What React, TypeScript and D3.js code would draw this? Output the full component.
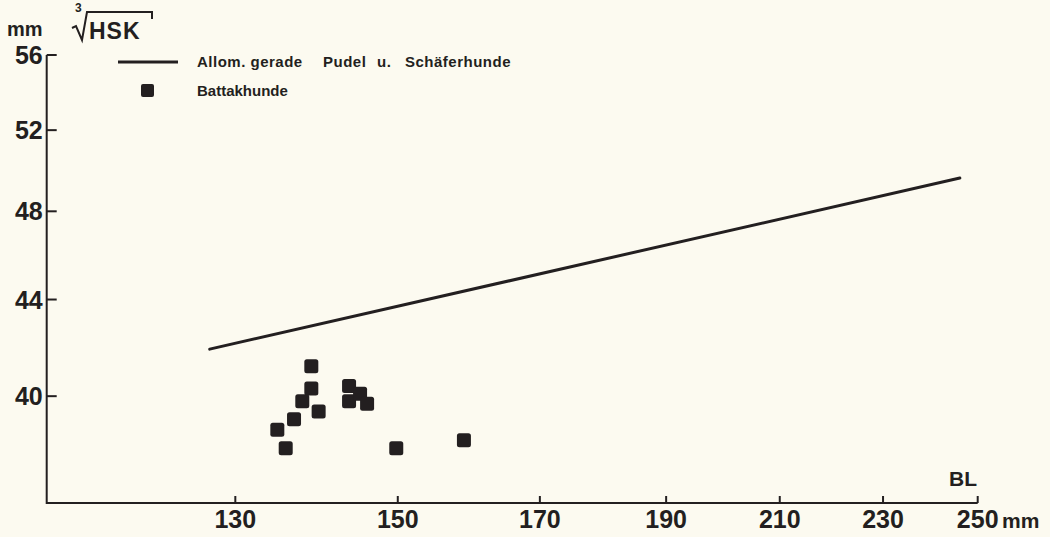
import React from "react";
import * as d3 from "d3";

// x: BL (mm), y: cube root of HSK (mm) – both on log axes
const xTicks = [130, 150, 170, 190, 210, 230, 250];
const yTicks = [40, 44, 48, 52, 56];

// allometric line, Pudel u. Schäferhunde (endpoints)
const lineBL = [127.1, 246.1];
const lineHSK = [41.9, 49.6];

// Battakhunde
const dogBL = [139.0, 139.0, 137.9, 139.9, 136.9, 134.9, 135.9, 143.7, 143.7, 145.1, 146.0, 149.8, 159.0];
const dogHSK = [41.2, 40.3, 39.8, 39.4, 39.1, 38.7, 38.0, 40.4, 39.8, 40.1, 39.7, 38.0, 38.3];

// legend words, with their left edges
const legendWords = ["Allom. gerade", "Pudel", "u.", "Schäferhunde"];
const legendWordX = [197, 323, 377, 405];
const legendDots = "Battakhunde";

const W = 1050;
const H = 537;
const INK = "#231f20";
const FONT = "'Liberation Sans', Arial, Helvetica, sans-serif";
const NARROW = "'Liberation Sans Narrow', 'Arial Narrow', 'Liberation Sans', sans-serif";

export default function App() {
  const x = d3.scaleLog().domain([110.1, 250]).range([46.7, 977.7]);
  const y = d3.scaleLog().domain([36.0, 56]).range([503, 55]);

  const x0 = x.range()[0];
  const y0 = y.range()[0];
  const line = d3.line<number>()
    .x((d) => x(lineBL[d]))
    .y((d) => y(lineHSK[d]));

  const SQ = 14;

  return (
    <svg width={W} height={H} style={{ position: "absolute", left: 0, top: 0 }} fontFamily={FONT}>
      <rect width={W} height={H} fill="#fcfaf0" />

      {/* header: mm ∛HSK */}
      <g fill={INK} fontWeight={700}>
        <text x={7} y={36} fontSize={20}>mm</text>
        <text x={75} y={12} fontSize={12}>3</text>
        <path d="M72,28 L76,26 L82,40 L87,12 L152,12 L152,19" fill="none" stroke={INK} strokeWidth={2} />
        <text x={89} y={39} fontSize={23} letterSpacing={1}>HSK</text>
      </g>

      {/* legend */}
      <g fill={INK} fontWeight={700} fontSize={15} letterSpacing={0.5}>
        <line x1={118} x2={178} y1={62} y2={62} stroke={INK} strokeWidth={3} />
        <text y={67}>
          {legendWords.map((w, i) => (
            <tspan key={w} x={legendWordX[i]}>{w}</tspan>
          ))}
        </text>
        <rect x={141} y={84} width={13} height={13} rx={2} fill={INK} />
        <text x={197} y={96} letterSpacing={0}>{legendDots}</text>
      </g>

      {/* axes */}
      <path d={`M${x0},${y(56)} V${y0} H${x(250)}`} fill="none" stroke={INK} strokeWidth={2} />
      {yTicks.map((t) => (
        <g key={t}>
          <line x1={x0} x2={x0 + 10} y1={y(t)} y2={y(t)} stroke={INK} strokeWidth={2} />
          <text x={x0 - 4} y={y(t) + 9} textAnchor="end" fontSize={25} fontFamily={NARROW} fontWeight={700} fill={INK}>{t}</text>
        </g>
      ))}
      {xTicks.map((t) => (
        <g key={t}>
          <line x1={x(t)} x2={x(t)} y1={y0} y2={y0 - 7} stroke={INK} strokeWidth={2} />
          <text x={x(t)} y={528} textAnchor="middle" fontSize={25} fontFamily={NARROW} fontWeight={700} fill={INK}>{t}</text>
        </g>
      ))}
      <text x={1002} y={528} fontSize={21} fontFamily={NARROW} fontWeight={700} fill={INK}>mm</text>
      <text x={977} y={486} textAnchor="end" fontSize={21} fontFamily={NARROW} fontWeight={700} fill={INK}>BL</text>

      {/* allometric line */}
      <path d={line([0, 1]) ?? ""} fill="none" stroke={INK} strokeWidth={3} strokeLinecap="round" />

      {/* Battakhunde */}
      {dogBL.map((b, i) => (
        <rect key={i} x={x(b) - SQ / 2} y={y(dogHSK[i]) - SQ / 2} width={SQ} height={SQ} rx={2.5} fill={INK} />
      ))}
    </svg>
  );
}
